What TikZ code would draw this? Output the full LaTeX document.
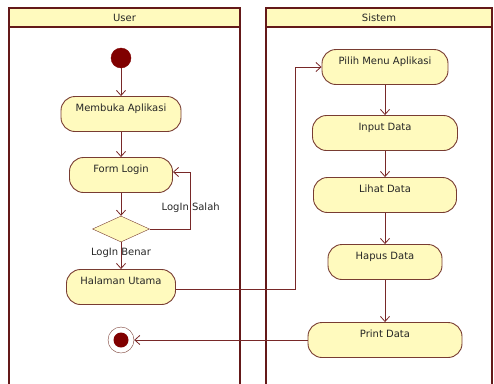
\documentclass[tikz,border=0pt]{standalone}
\usepackage{fontspec}
\setmainfont{DejaVu Sans}
\usetikzlibrary{shapes.geometric,arrows.meta}
\definecolor{laneline}{RGB}{100,25,25}
\definecolor{actline}{RGB}{120,60,50}
\definecolor{flowline}{RGB}{120,40,40}
\definecolor{actfill}{RGB}{255,250,190}
\definecolor{dotred}{RGB}{128,0,0}
\begin{document}
\begin{tikzpicture}[x=1pt, y=-1pt, node distance=60pt, >={Straight Barb[length=5pt,width=9pt]},
  every node/.style={font=\fontsize{10pt}{12pt}\selectfont, text=black!85},
  act/.style={draw=actline, fill=actfill, rounded corners=14pt, minimum height=35pt, line width=0.9pt,
    inner ysep=3pt, text height=11.5pt, text depth=17.5pt},
  dec/.style={diamond, draw=actline, fill=actfill, minimum width=57pt, minimum height=26pt, inner sep=0pt},
  start/.style={circle, draw=dotred, fill=dotred, minimum size=20pt, inner sep=0pt},
  stop/.style={circle, draw=actline, fill=white, minimum size=26pt, inner sep=0pt,
    path picture={\fill[dotred] (path picture bounding box.center) circle (7.5pt);}},
  flow/.style={->, draw=flowline, line width=0.8pt},
  lane/.style={draw=laneline, line width=1.3pt}]
\useasboundingbox (0,0) rectangle (494,383);
% swimlanes
\draw[lane] (9,8) rectangle (240,395);
\draw[lane, fill=actfill] (9,8) rectangle (240,27);
\draw[lane] (266,8) rectangle (492,395);
\draw[lane, fill=actfill] (266,8) rectangle (492,27);
\node (user) at (124.5,17.5) {User};
\node (sistem) at (379,17.5) {Sistem};
% user
\node[start] (S) at (121,58) {};
\node[act, minimum width=120pt] (MA) [below of=S, node distance=56pt] {Membuka Aplikasi};
\node[act, minimum width=103pt] (FL) [below of=MA, node distance=61pt] {Form Login};
\node[dec] (D) [below of=FL, node distance=54pt] {};
\node[act, minimum width=109pt] (HU) [below of=D, node distance=58pt] {Halaman Utama};
\node[stop] (E) [below of=HU, node distance=53pt] {};
% sistem
\node[act, minimum width=126pt] (PM) at (385,67) {Pilih Menu Aplikasi};
\node[act, minimum width=145pt] (ID) [below of=PM, node distance=66pt] {Input Data};
\node[act, minimum width=143pt] (LD) [below of=ID, node distance=62pt] {Lihat Data};
\node[act, minimum width=114pt] (HD) [below of=LD, node distance=67pt] {Hapus Data};
\node[act, minimum width=154pt] (PD) [below of=HD, node distance=78pt] {Print Data};
% flows
\draw[flow] (S) -- (MA);
\draw[flow] (MA) -- (FL);
\draw[flow] (FL) -- (D);
\draw[flow] (D) -- node[pos=0.4] {LogIn Benar} (HU);
\draw[flow] (D.east) -- ++(41,0) |- node[pos=0.19] {LogIn Salah} ([yshift=3pt]FL.east);
\draw[flow] ([yshift=-2pt]HU.east) -- ++(119,0) |- (PM.west);
\draw[flow] (PM) -- (ID);
\draw[flow] (ID) -- (LD);
\draw[flow] (LD) -- (HD);
\draw[flow] (HD) -- (PD);
\draw[flow] (PD) -- (E);
\end{tikzpicture}
\end{document}
